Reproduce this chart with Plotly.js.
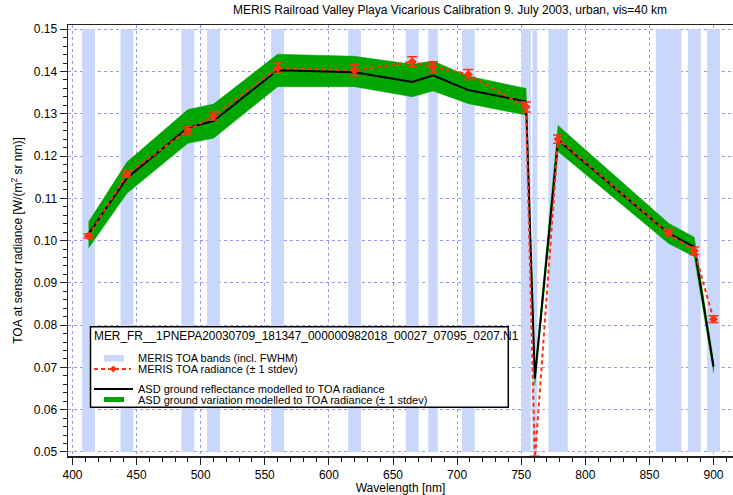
<!DOCTYPE html>
<html>
<head>
<meta charset="utf-8">
<script src="https://cdn.plot.ly/plotly-3.0.1.min.js"></script>
<style>html,body{margin:0;padding:0;background:#fff;}#chart{width:733px;height:495px;}</style>
</head>
<body>
<div id="chart"></div>
<script>
// ---- data ----
const bandCenters = [412.5, 442.5, 490, 510, 560, 620, 665, 681.25, 708.75, 753.75, 760.625, 778.75, 865, 885, 900];
const bandFWHM    = [10, 10, 10, 10, 10, 10, 10, 7.5, 10, 7.5, 3.75, 15, 20, 10, 10];
const bandBottom  = 0.05;
const bandTop     = 0.15;

const merisTOA    = [0.1011, 0.1157, 0.1261, 0.1295, 0.1408, 0.1403, 0.1423, 0.1411, 0.1393, 0.1316, 0.0480, 0.1240, 0.1017, 0.0976, 0.0814];
const merisStdev  = [0.0005, 0.0007, 0.0009, 0.0010, 0.0012, 0.0013, 0.0012, 0.0012, 0.0012, 0.0012, 0.0010, 0.0010, 0.0009, 0.0009, 0.0008];

const asdModel    = [0.1016, 0.1148, 0.1267, 0.1283, 0.1403, 0.1398, 0.1375, 0.1391, 0.1356, 0.1329, 0.0674, 0.1238, 0.1017, 0.0985, 0.0702];
const asdUpper    = [0.1044, 0.1186, 0.1310, 0.1323, 0.1441, 0.1436, 0.1417, 0.1425, 0.1389, 0.1360, 0.0686, 0.1272, 0.1041, 0.1008, 0.0714];
const asdLower    = [0.0982, 0.1112, 0.1230, 0.1242, 0.1364, 0.1364, 0.1340, 0.1354, 0.1324, 0.1297, 0.0658, 0.1211, 0.0993, 0.0962, 0.0688];

const titleText   = 'MERIS Railroad Valley Playa Vicarious Calibration 9. July 2003, urban, vis=40 km';
const legendTitle = 'MER_FR__1PNEPA20030709_181347_000000982018_00027_07095_0207.N1';
const legendLabels = [
  'MERIS TOA bands (incl. FWHM)',
  'MERIS TOA radiance (\u00b1 1 stdev)',
  'ASD ground reflectance modelled to TOA radiance',
  'ASD ground variation modelled to TOA radiance (\u00b1 1 stdev)'
];

// ---- styles ----
const FONT = 'Liberation Sans, Arial, Helvetica, sans-serif';
const BAND_COLOR = 'rgb(201,215,251)';
const GREEN = 'rgb(0,165,0)';
const RED = 'rgb(255,50,20)';
const GRID = 'rgb(150,150,250)';

const traces = [
  {
    type: 'bar', x: bandCenters, y: bandCenters.map(() => bandTop - bandBottom), base: bandBottom,
    width: bandFWHM, marker: {color: BAND_COLOR, line: {width: 0}}, hoverinfo: 'skip', showlegend: false
  },
  {
    type: 'scatter', mode: 'lines',
    x: bandCenters.concat(bandCenters.slice().reverse()),
    y: asdUpper.concat(asdLower.slice().reverse()),
    fill: 'toself', fillcolor: GREEN, line: {width: 0.5, color: GREEN}, showlegend: false, hoverinfo: 'skip'
  },
  {
    type: 'scatter', mode: 'lines', x: bandCenters, y: asdModel,
    line: {color: 'black', width: 2}, showlegend: false
  },
  {
    type: 'scatter', mode: 'lines+markers', x: bandCenters, y: merisTOA,
    line: {color: RED, width: 2, dash: '4px,3px'},
    marker: {symbol: 'diamond', size: 7, color: RED},
    error_y: {type: 'data', array: merisStdev, visible: true, color: RED, thickness: 1.5, width: 5},
    showlegend: false
  }
];

// plot area in pixels
const PL = 68, PR = 733, PT = 25, PB = 456;
const px = x => (x - PL) / (PR - PL);
const py = y => (PB - y) / (PB - PT);

function rect(x0, y0, x1, y1, fill, line) {
  return {type: 'rect', xref: 'paper', yref: 'paper', x0: px(x0), x1: px(x1), y0: py(y1), y1: py(y0),
          fillcolor: fill, line: line || {width: 0}, layer: 'above'};
}
function hline(x0, x1, y, color, width, dash) {
  return {type: 'line', xref: 'paper', yref: 'paper', x0: px(x0), x1: px(x1), y0: py(y), y1: py(y),
          line: {color: color, width: width, dash: dash || 'solid'}, layer: 'above'};
}
const dx = 3.6, dcx = 113.3, dcy = 369;
const diamondPath = 'M ' + px(dcx) + ' ' + py(dcy - dx) + ' L ' + px(dcx + dx) + ' ' + py(dcy) +
                    ' L ' + px(dcx) + ' ' + py(dcy + dx) + ' L ' + px(dcx - dx) + ' ' + py(dcy) + ' Z';

const shapes = [
  rect(90.5, 326.7, 508.3, 407.3, 'white', {color: 'black', width: 1.5}),
  rect(104, 355, 124, 361.5, BAND_COLOR),
  hline(94, 131, 369, RED, 2, '4px,3px'),
  {type: 'path', xref: 'paper', yref: 'paper', path: diamondPath, fillcolor: RED, line: {width: 0}, layer: 'above'},
  hline(94, 133, 389, 'black', 2),
  rect(104, 397, 124, 402, GREEN)
];

function ann(text, x, y, size) {
  return {text: text, xref: 'paper', yref: 'paper', x: px(x), y: py(y), xanchor: 'left', yanchor: 'middle',
          showarrow: false, font: {family: FONT, size: size, color: 'black'}, borderpad: 0};
}
const annotations = [
  ann(legendTitle, 92.5, 336, 11.9),
  ann(legendLabels[0], 137, 358.3, 11),
  ann(legendLabels[1], 137, 369, 11),
  ann(legendLabels[2], 137, 389, 11),
  ann(legendLabels[3], 137, 399.5, 11)
];

const layout = {
  width: 733, height: 495,
  margin: {l: PL, r: 733 - PR, t: PT, b: 495 - PB, pad: 0},
  paper_bgcolor: 'white', plot_bgcolor: 'white',
  font: {family: FONT, size: 12, color: 'black'},
  title: {text: titleText, x: 450 / 733, xanchor: 'center', y: 1 - 10 / 495, yanchor: 'middle',
          font: {family: FONT, size: 12, color: 'black'}},
  barmode: 'overlay',
  showlegend: false,
  xaxis: {
    range: [396.5, 915.2], tick0: 400, dtick: 50, ticks: 'outside', ticklen: 7, tickwidth: 1, tickcolor: '#222',
    showline: true, linecolor: '#222', linewidth: 1.5, mirror: true, zeroline: false,
    showgrid: true, gridcolor: GRID, griddash: 'dot', gridwidth: 1,
    minor: {dtick: 10, ticks: 'outside', ticklen: 4, tickcolor: '#222', showgrid: false},
    tickfont: {family: FONT, size: 12, color: 'black'},
    title: {text: 'Wavelength [nm]', font: {family: FONT, size: 12, color: 'black'}, standoff: 6},
    automargin: false
  },
  yaxis: {
    range: [0.04905, 0.1510], tick0: 0.05, dtick: 0.01, tickformat: '.2f', ticks: 'outside', ticklen: 7,
    tickwidth: 1, tickcolor: '#222',
    showline: true, linecolor: '#222', linewidth: 1.5, mirror: false, zeroline: false,
    showgrid: true, gridcolor: GRID, griddash: 'dot', gridwidth: 1,
    minor: {dtick: 0.002, ticks: 'outside', ticklen: 4, tickcolor: '#222', showgrid: false},
    tickfont: {family: FONT, size: 12, color: 'black'},
    title: {text: 'TOA at sensor radiance [W/(m<sup>2</sup> sr nm)]', font: {family: FONT, size: 12, color: 'black'}, standoff: 8},
    automargin: false
  },
  shapes: shapes,
  annotations: annotations
};

Plotly.newPlot('chart', traces, layout, {displayModeBar: false, staticPlot: true});
</script>
</body>
</html>
